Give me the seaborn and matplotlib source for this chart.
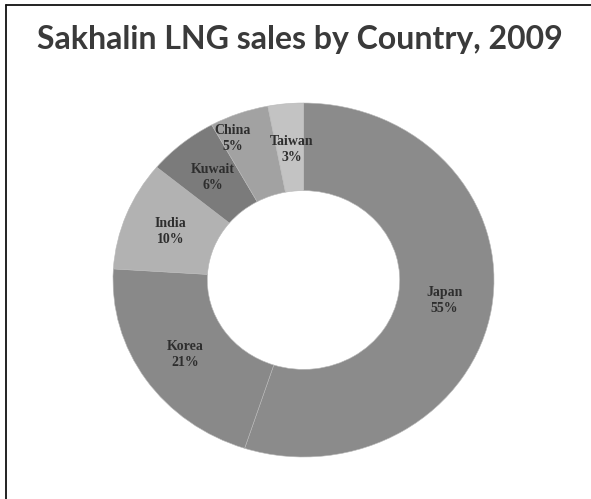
import matplotlib
matplotlib.use("Agg")
import matplotlib.pyplot as plt
from matplotlib.lines import Line2D
import seaborn as sns

countries = ["Japan", "Korea", "India", "Kuwait", "China", "Taiwan"]
shares = [55, 21, 10, 6, 5, 3]
slice_colors = ["#8b8b8b", "#898989", "#b2b2b2", "#7b7b7b", "#a2a2a2", "#c3c3c3"]
title = "Sakhalin LNG sales by Country, 2009"

sns.set_theme(style="white")
plt.rcParams["font.family"] = ["Lato", "DejaVu Sans"]

W, H = 591, 499
fig = plt.figure(figsize=(W / 100, H / 100), dpi=100)
fig.patch.set_facecolor("white")

# donut is a little wider than tall in the reference
cx, cy, rx, ry = 303.5, 280, 190.5, 177
ax = fig.add_axes([(cx - rx) / W, (H - cy - ry) / H, 2 * rx / W, 2 * ry / H])

labels = [f"{c}\n{s}%" for c, s in zip(countries, shares)]
wedges, texts = ax.pie(
    shares,
    labels=labels,
    colors=sns.color_palette(slice_colors),
    startangle=90,
    counterclock=False,
    radius=1,
    labeldistance=0.75,
    wedgeprops=dict(width=0.495, edgecolor="#b8b8b8", linewidth=0.4),
    textprops=dict(family=["Liberation Serif"], fontsize=10, color="#2e2e2e",
                   fontweight="bold", ha="center", va="center", linespacing=1.3),
)
for t in texts:
    t.set_horizontalalignment("center")

# small slices: labels pushed apart like the reference
texts[4].set_position((-0.37, 0.80))
texts[5].set_position((-0.06, 0.74))

ax.set_aspect("auto")
ax.set_xlim(-1, 1)
ax.set_ylim(-1, 1)
ax.axis("off")

fig.text(300 / W, 1 - 40 / H, title, ha="center", va="center",
         fontsize=23, fontweight="bold", color="#3a3a3a")

# frame: only left and top edges show in the reference
x0 = 6 / W
y0 = 1 - 5 / H
fig.add_artist(Line2D([x0, x0], [0, y0], color="#111111", linewidth=1.3))
fig.add_artist(Line2D([x0, 1], [y0, y0], color="#111111", linewidth=1.3))

fig.savefig("out.png", dpi=100)
